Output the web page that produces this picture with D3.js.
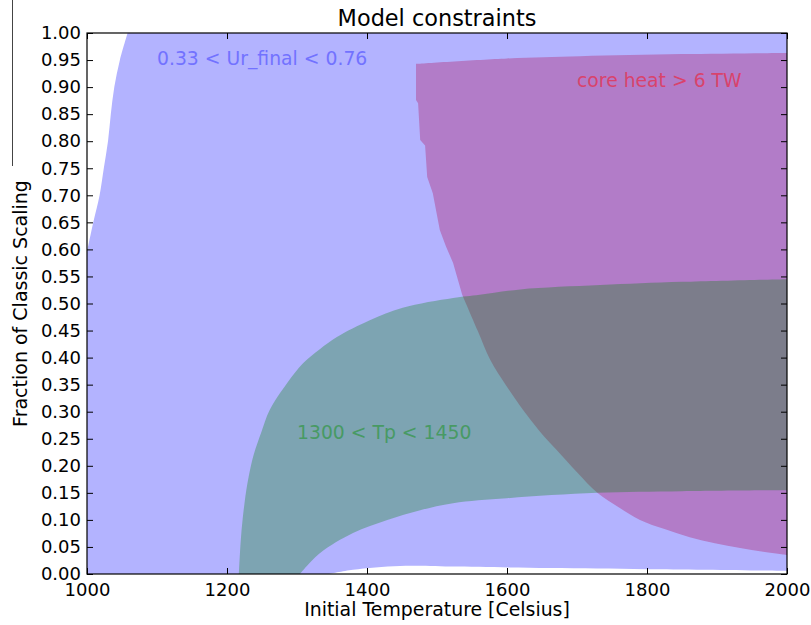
<!DOCTYPE html>
<html>
<head>
<meta charset="utf-8">
<script src="https://cdn.jsdelivr.net/npm/d3@7"></script>
<style>
  body { margin: 0; background: #fff; }
  svg text { font-family: "DejaVu Sans", sans-serif; }
  .axis path { display: none; }
  .axis line { stroke: #000; }
</style>
</head>
<body>
<div class="chart_container"></div>
<script>
// tick labels
const tempTicks = [1000, 1200, 1400, 1600, 1800, 2000]
const fracTicks = [0.00, 0.05, 0.10, 0.15, 0.20, 0.25, 0.30, 0.35, 0.40, 0.45, 0.50,
                   0.55, 0.60, 0.65, 0.70, 0.75, 0.80, 0.85, 0.90, 0.95, 1.00]

// 0.33 < Ur_final < 0.76 : left edge (white above-left) and floor (white sliver below)
const urLeftEdge = [[1000, 0.595], [1009, 0.65], [1018, 0.70], [1024, 0.75], [1030, 0.80],
                    [1034, 0.85], [1039, 0.90], [1047, 0.95], [1058, 1.00]]
const urFloorEdge = [[1345, 0], [1380, 0.008], [1447, 0.015], [1520, 0.014], [1661, 0.011],
                     [1800, 0.009], [2000, 0.006]]

// core heat > 6 TW : top edge, ragged upper-left edge, smooth lower edge
const heatTopEdge = [[1470, 0.943], [1600, 0.953], [1704, 0.957], [1850, 0.961], [2000, 0.963]]
const heatRaggedEdge = [[1470, 0.943], [1470, 0.876], [1473, 0.870], [1476, 0.802], [1483, 0.792],
                        [1486, 0.734], [1494, 0.704], [1504, 0.636], [1513, 0.605], [1523, 0.575],
                        [1536, 0.516]]
const heatLowEdge = [[1536, 0.516], [1558, 0.450], [1576, 0.396], [1598, 0.350], [1623, 0.303],
                     [1646, 0.265], [1671, 0.229], [1700, 0.188], [1729, 0.150], [1760, 0.123],
                     [1790, 0.100], [1825, 0.083], [1861, 0.068], [1897, 0.057], [1933, 0.048],
                     [1966, 0.041], [2000, 0.035]]

// 1300 < Tp < 1450 : outer (upper) and inner (lower) edges
const tpOuterEdge = [[1217, 0], [1220, 0.068], [1225, 0.131], [1231, 0.180], [1238, 0.220],
                     [1249, 0.262], [1261, 0.303], [1286, 0.353], [1309, 0.390], [1333, 0.416],
                     [1357, 0.438], [1404, 0.469], [1451, 0.492], [1523, 0.510], [1561, 0.516],
                     [1619, 0.526], [1733, 0.534], [1850, 0.540], [2000, 0.545]]
const tpInnerEdge = [[1304, 0], [1333, 0.039], [1380, 0.076], [1429, 0.100], [1476, 0.118],
                     [1523, 0.131], [1600, 0.140], [1729, 0.150], [1850, 0.153], [2000, 0.155]]

// labels
const labels = [
    {text: '0.33 < Ur_final < 0.76', t: 1100, f: 0.94, color: '#7272ff'},
    {text: 'core heat > 6 TW', t: 1700, f: 0.90, color: '#d9436c'},
    {text: '1300 < Tp < 1450', t: 1300, f: 0.25, color: '#489a64'}
]

const svg_width = 811
const svg_height = 625
const margin = {top: 33, left: 87, right: 24, bottom: 51}
const chart_width = svg_width - margin.left - margin.right
const chart_height = svg_height - margin.top - margin.bottom

const svg = d3.select('.chart_container').append('svg')
    .attr('width', svg_width).attr('height', svg_height)

// stray line at far left
svg.append('line').attr('x1', 12.5).attr('x2', 12.5).attr('y1', 0).attr('y2', 166)
    .attr('stroke', '#444').attr('stroke-width', 1)

const g = svg.append('g').attr('transform', `translate(${margin.left},${margin.top})`)

const xScale = d3.scaleLinear([1000, 2000], [0, chart_width])
const yScale = d3.scaleLinear([0, 1], [chart_height, 0])

g.append('clipPath').attr('id', 'plotClip').append('rect')
    .attr('width', chart_width).attr('height', chart_height)

const smooth = d3.curveCatmullRom.alpha(0.5)
const rev = a => a.slice().reverse()

// glue edges into one closed outline; each edge is [points, curve]
function outline(edges) {
    let d = ''
    edges.forEach(([pts, curve], i) => {
        const seg = d3.line().x(p => xScale(p[0])).y(p => yScale(p[1])).curve(curve)(pts)
        d += i === 0 ? seg : 'L' + seg.slice(1)
    })
    return d + 'Z'
}

const urPath = outline([
    [[[1000, 0], [1000, 0.595]], d3.curveLinear],
    [urLeftEdge, smooth],
    [[[1058, 1], [2000, 1], [2000, 0.006]], d3.curveLinear],
    [rev(urFloorEdge), smooth]
])
const heatPath = outline([
    [heatTopEdge, smooth],
    [[[2000, 0.963], [2000, 0.035]], d3.curveLinear],
    [rev(heatLowEdge), smooth],
    [rev(heatRaggedEdge), d3.curveLinear]
])
const tpPath = outline([
    [tpOuterEdge, smooth],
    [[[2000, 0.545], [2000, 0.155]], d3.curveLinear],
    [rev(tpInnerEdge), smooth]
])

const plot = g.append('g').attr('clip-path', 'url(#plotClip)')
plot.append('path').attr('d', urPath).attr('fill', '#b3b3ff')
plot.append('path').attr('d', heatPath).attr('fill', '#b27cc8')
plot.append('path').attr('d', tpPath).attr('fill', '#008000').attr('fill-opacity', 0.3)

labels.forEach(l => {
    g.append('text').attr('x', xScale(l.t)).attr('y', yScale(l.f))
        .attr('fill', l.color).style('font-size', '18.8px').text(l.text)
})

// axes (ticks inside, all four sides)
const fmt = d3.format('.2f')
g.append('g').attr('class', 'axis').attr('transform', `translate(0,${chart_height})`)
    .call(d3.axisBottom(xScale).tickValues(tempTicks).tickFormat(d3.format('d'))
        .tickSizeInner(-6).tickSizeOuter(0).tickPadding(9))
g.append('g').attr('class', 'axis')
    .call(d3.axisTop(xScale).tickValues(tempTicks).tickSizeInner(-6).tickSizeOuter(0).tickFormat(''))
g.append('g').attr('class', 'axis')
    .call(d3.axisLeft(yScale).tickValues(fracTicks).tickFormat(fmt).tickSizeInner(-6).tickSizeOuter(0).tickPadding(6))
g.append('g').attr('class', 'axis').attr('transform', `translate(${chart_width},0)`)
    .call(d3.axisRight(yScale).tickValues(fracTicks).tickSizeInner(-6).tickSizeOuter(0).tickFormat(''))

g.selectAll('.axis text').style('font-size', '18px').style('font-family', '"DejaVu Sans", sans-serif').attr('fill', '#000')

// frame
g.append('rect').attr('width', chart_width).attr('height', chart_height)
    .attr('fill', 'none').attr('stroke', '#000').attr('stroke-width', 1.2)

// titles
svg.append('text').attr('x', margin.left + chart_width / 2).attr('y', 26)
    .attr('text-anchor', 'middle').style('font-size', '22.4px').text('Model constraints')
svg.append('text').attr('x', margin.left + chart_width / 2).attr('y', 616)
    .attr('text-anchor', 'middle').style('font-size', '18.9px').text('Initial Temperature [Celsius]')
svg.append('text').attr('transform', `translate(27,${margin.top + chart_height / 2}) rotate(-90)`)
    .attr('text-anchor', 'middle').style('font-size', '19px').text('Fraction of Classic Scaling')
</script>
</body>
</html>
